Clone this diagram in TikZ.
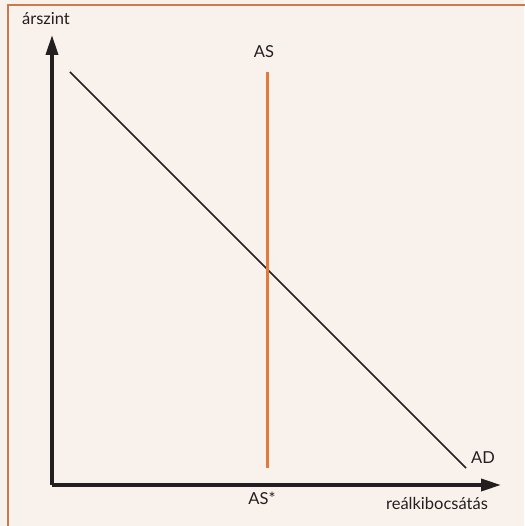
\documentclass[tikz,border=0pt]{standalone}
\usepackage{fontspec}
\setmainfont{Lato}
\usetikzlibrary{arrows.meta}
\definecolor{bgbeige}{HTML}{F9F1EB}
\definecolor{framebrown}{HTML}{C97B4B}
\definecolor{asorange}{HTML}{E07B3C}
\definecolor{inkdark}{HTML}{231F20}

\begin{document}
\begin{tikzpicture}[
	x=1pt, y=1pt,
	axis/.style={-{Triangle[length=20pt, width=12pt]}, line width=3.5pt, draw=inkdark},
	curve/.style={line width=1.6pt, draw=inkdark},
	supply/.style={line width=3pt, draw=asorange},
	lbl/.style={font=\fontsize{16.5}{18}\selectfont, text=inkdark, inner sep=0pt},
	]
	\useasboundingbox (0,0) rectangle (524,526);
	\fill[bgbeige] (0,0) rectangle (524,526);
	\draw[framebrown, line width=2.2pt] (8,521) rectangle (540,-20);
	% axes
	\coordinate (O)    at (52,41);
	\coordinate (ytop) at (52,491);
	\coordinate (xend) at (501,41);
	\draw[axis] (O) -- (ytop);
	\draw[axis] (O) -- (xend);
	\node[lbl] (ylab) at (46,507) {árszint};
	\node[lbl] (xlab) at (437,23) {reálkibocsátás};
	% curves
	\coordinate (ad1) at (70,454);
	\coordinate (ad2) at (466,58);
	\coordinate (as1) at (267,454);
	\coordinate (as2) at (267,58);
	\draw[curve]  (ad1) -- (ad2);
	\draw[supply] (as1) -- (as2);
	\node[lbl] (adlab) at (483,68) {AD};
	\node[lbl] (aslab) at (264,474) {AS};
	\node[lbl] (asstar) at (262,28) {AS*};
\end{tikzpicture}
\end{document}
